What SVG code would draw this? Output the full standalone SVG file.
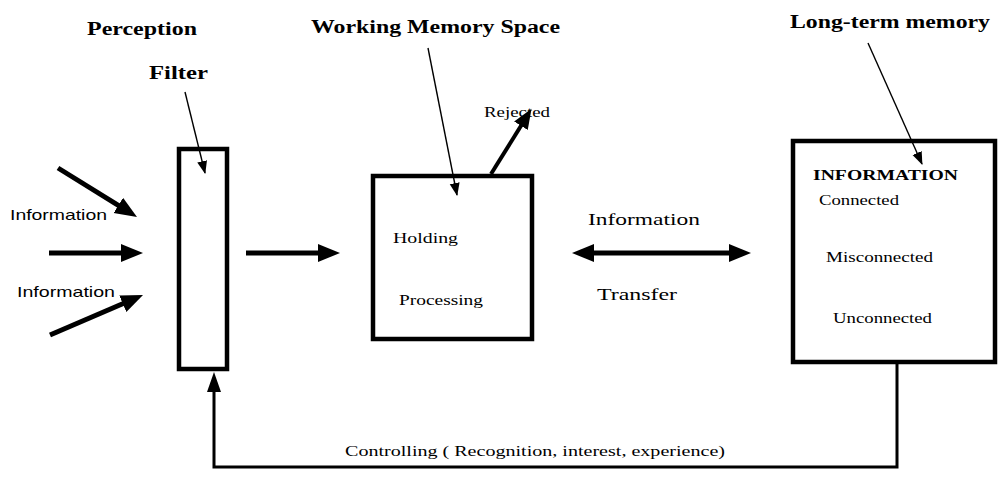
<svg xmlns="http://www.w3.org/2000/svg" width="998" height="480" viewBox="0 0 998 480">
<style>
.bg{fill:#fff}
.box{fill:none;stroke:#000;stroke-width:4.5}
.thick{stroke:#000;stroke-width:5;fill:none}
.mid{stroke:#000;stroke-width:4;fill:none}
.thin{stroke:#000;stroke-width:1.4;fill:none}
.fb{stroke:#000;stroke-width:3;fill:none}
.h{font-family:"Liberation Serif",serif;font-weight:bold;font-size:18px;fill:#000}
.s{font-family:"Liberation Serif",serif;font-size:14px;fill:#000}
.m{font-family:"Liberation Serif",serif;font-size:17px;fill:#000}
.sans{font-family:"Liberation Sans",sans-serif;font-size:15px;fill:#000}
</style>
<defs>
<marker id="big" markerUnits="userSpaceOnUse" markerWidth="24" markerHeight="20" refX="10" refY="9" orient="auto-start-reverse" viewBox="0 0 24 20">
<path d="M0,0 L22,9 L0,18 z" fill="#000"/>
</marker>
<marker id="rej" markerUnits="userSpaceOnUse" markerWidth="22" markerHeight="18" refX="9" refY="8" orient="auto" viewBox="0 0 22 18">
<path d="M0,0 L20,8 L0,16 z" fill="#000"/>
</marker>
<marker id="up" markerUnits="userSpaceOnUse" markerWidth="22" markerHeight="16" refX="6" refY="7" orient="auto" viewBox="0 0 22 16">
<path d="M0,0 L20,7 L0,14 z" fill="#000"/>
</marker>
<marker id="sm" markerUnits="userSpaceOnUse" markerWidth="14" markerHeight="12" refX="12" refY="5" orient="auto" viewBox="0 0 14 12">
<path d="M0,0 L13,5 L0,10 z" fill="#000"/>
</marker>
</defs>
<rect class="bg" x="0" y="0" width="998" height="480"/>

<g id="connectors">
<line class="thick" x1="58" y1="168" x2="126.8" y2="210.7" marker-end="url(#big)"/>
<line class="thick" x1="49" y1="253" x2="131" y2="253" marker-end="url(#big)"/>
<line class="thick" x1="50" y1="335" x2="132" y2="299.7" marker-end="url(#big)"/>
<line class="thick" x1="246" y1="253" x2="328" y2="253" marker-end="url(#big)"/>
<line class="thick" x1="584" y1="253" x2="739" y2="253" marker-start="url(#big)" marker-end="url(#big)"/>
<line class="mid" x1="491" y1="174" x2="525.7" y2="118.2" marker-end="url(#rej)"/>
<path class="fb" d="M897,364 V467 H214 V386" marker-end="url(#up)"/>
<line class="thin" x1="185" y1="92" x2="205" y2="173" marker-end="url(#sm)"/>
<line class="thin" x1="428" y1="48" x2="457" y2="195" marker-end="url(#sm)"/>
<line class="thin" x1="868" y1="43" x2="922" y2="164" marker-end="url(#sm)"/>
</g>

<g id="input-labels">
<text class="sans" x="10" y="220" textLength="97" lengthAdjust="spacingAndGlyphs">Information</text>
<text class="sans" x="17" y="297" textLength="98" lengthAdjust="spacingAndGlyphs">Information</text>
</g>

<g id="perception">
<text class="h" x="87" y="35" textLength="110" lengthAdjust="spacingAndGlyphs">Perception</text>
</g>

<g id="filter">
<text class="h" x="149" y="79" textLength="59" lengthAdjust="spacingAndGlyphs">Filter</text>
<rect class="box" x="179" y="149" width="48" height="220"/>
</g>

<g id="working-memory">
<text class="h" x="311" y="33" textLength="249" lengthAdjust="spacingAndGlyphs">Working Memory Space</text>
<rect class="box" x="373" y="176" width="159" height="163"/>
<text class="s" x="393" y="243" textLength="65" lengthAdjust="spacingAndGlyphs">Holding</text>
<text class="s" x="399" y="305" textLength="84" lengthAdjust="spacingAndGlyphs">Processing</text>
</g>

<g id="rejected">
<text class="s" x="484" y="117" textLength="66" lengthAdjust="spacingAndGlyphs">Rejected</text>
</g>

<g id="transfer">
<text class="m" x="588" y="225" textLength="112" lengthAdjust="spacingAndGlyphs">Information</text>
<text class="m" x="597" y="300" textLength="80" lengthAdjust="spacingAndGlyphs">Transfer</text>
</g>

<g id="long-term-memory">
<text class="h" x="790" y="28" textLength="200" lengthAdjust="spacingAndGlyphs">Long-term memory</text>
<rect class="box" x="793" y="141" width="202" height="221"/>
<text class="s" x="813" y="180" font-weight="bold" textLength="145" lengthAdjust="spacingAndGlyphs">INFORMATION</text>
<text class="s" x="819" y="205" textLength="80" lengthAdjust="spacingAndGlyphs">Connected</text>
<text class="s" x="826" y="262" textLength="107" lengthAdjust="spacingAndGlyphs">Misconnected</text>
<text class="s" x="833" y="323" textLength="99" lengthAdjust="spacingAndGlyphs">Unconnected</text>
</g>

<g id="controlling">
<text class="s" x="345" y="456" textLength="380" lengthAdjust="spacingAndGlyphs">Controlling  ( Recognition, interest, experience)</text>
</g>
</svg>
